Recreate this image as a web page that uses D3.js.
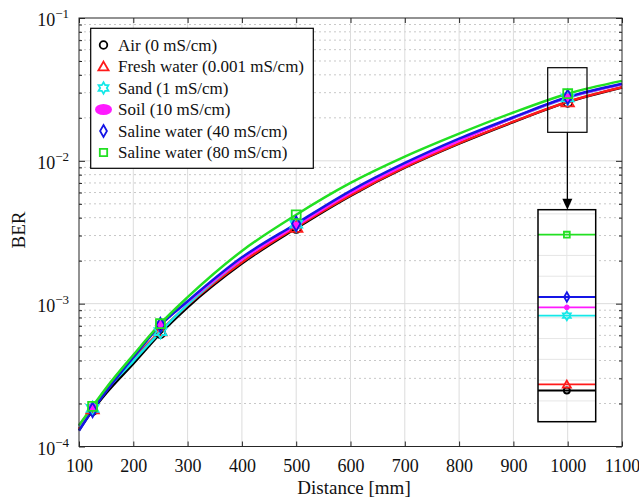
<!DOCTYPE html>
<html>
<head>
<meta charset="utf-8">
<script src="https://cdn.jsdelivr.net/npm/d3@7"></script>
<style>
  body { margin: 0; background: #fff; }
  svg { display: block; font-family: "Liberation Serif", "Times New Roman", serif; }
</style>
</head>
<body>
<div id="chart"></div>
<script>
// data
var distance = [100, 125, 150, 200, 250, 300, 400, 500, 600, 700, 800, 900, 1000, 1100];
var markerDistance = [125, 250, 500, 1000];
var berAir      = [1.30e-4, 1.79e-4, 2.36e-4, 3.80e-4, 6.19e-4, 9.44e-4, 1.91e-3, 3.37e-3, 5.69e-3, 8.95e-3, 1.32e-2, 1.87e-2, 2.575e-2, 3.26e-2];
var berFresh    = [1.33e-4, 1.84e-4, 2.45e-4, 4.07e-4, 6.46e-4, 9.77e-4, 1.95e-3, 3.43e-3, 5.75e-3, 9.02e-3, 1.33e-2, 1.88e-2, 2.59e-2, 3.27e-2];
var berSand     = [1.38e-4, 1.85e-4, 2.47e-4, 3.96e-4, 6.38e-4, 9.84e-4, 2.04e-3, 3.60e-3, 6.03e-3, 9.44e-3, 1.40e-2, 2.00e-2, 2.755e-2, 3.43e-2];
var berSoil     = [1.40e-4, 1.88e-4, 2.54e-4, 4.30e-4, 7.16e-4, 1.03e-3, 2.04e-3, 3.51e-3, 5.96e-3, 9.33e-3, 1.38e-2, 2.00e-2, 2.775e-2, 3.44e-2];
var berSaline40 = [1.29e-4, 1.80e-4, 2.43e-4, 4.22e-4, 7.08e-4, 1.04e-3, 2.11e-3, 3.63e-3, 6.17e-3, 9.66e-3, 1.43e-2, 2.02e-2, 2.80e-2, 3.47e-2];
var berSaline80 = [1.41e-4, 1.91e-4, 2.57e-4, 4.37e-4, 7.24e-4, 1.11e-3, 2.34e-3, 4.19e-3, 7.00e-3, 1.07e-2, 1.55e-2, 2.18e-2, 2.95e-2, 3.63e-2];
var seriesNames = ['Air (0 mS/cm)', 'Fresh water (0.001 mS/cm)', 'Sand (1 mS/cm)', 'Soil (10 mS/cm)', 'Saline water (40 mS/cm)', 'Saline water (80 mS/cm)'];
var xTicks = [100, 200, 300, 400, 500, 600, 700, 800, 900, 1000, 1100];
var yTickExponents = [-4, -3, -2, -1];

(function () {
  'use strict';

  // settings
  var width = 639, height = 497;
  var plotLeft = 79, plotRight = 622, plotTop = 18, plotBottom = 446.5;
  var colors = ['#000000', '#ff1a1a', '#14e8e8', '#ff1aff', '#1515e6', '#22e022'];
  var markerTypes = ['circle', 'triangle', 'hexagram', 'dot', 'diamond', 'square'];
  var gridColor = '#dcdcdc';
  var axisColor = '#262626';
  var serif = 'Liberation Serif, Times New Roman, serif';
  var zoomBox = { x0: 547.7, x1: 587, y0: 67.7, y1: 132.3 };   // small box
  var insetBox = { x0: 538, x1: 595.7, y0: 209.7, y1: 421.7 }; // magnified view
  var insetDomain = [2.50e-2, 3.01e-2];

  var series = [berAir, berFresh, berSand, berSoil, berSaline40, berSaline80].map(function (v, i) {
    return { name: seriesNames[i], values: v, color: colors[i], marker: markerTypes[i] };
  });

  var svg = d3.select('#chart').append('svg')
    .attr('width', width)
    .attr('height', height);

  var x = d3.scaleLinear().domain([100, 1100]).range([plotLeft, plotRight]);
  var y = d3.scaleLog().domain([1e-4, 1e-1]).range([plotBottom, plotTop]);

  // six-pointed star outline
  function hexagram(r) {
    var pts = [];
    for (var k = 0; k < 12; k++) {
      var a = -Math.PI / 2 + k * Math.PI / 6;
      var rr = k % 2 === 0 ? r : r / Math.sqrt(3);
      pts.push([rr * Math.cos(a), rr * Math.sin(a)]);
    }
    return 'M' + pts.map(function (p) { return p[0].toFixed(2) + ',' + p[1].toFixed(2); }).join('L') + 'Z';
  }

  function drawMarker(g, type, color, cx, cy, s) {
    s = s || 1;
    if (type === 'circle') {
      g.append('circle').attr('cx', cx).attr('cy', cy).attr('r', 4 * s)
        .attr('fill', 'none').attr('stroke', color).attr('stroke-width', 1.8);
    } else if (type === 'dot') {
      g.append('circle').attr('cx', cx).attr('cy', cy).attr('r', 3.2 * s)
        .attr('fill', color).attr('stroke', color).attr('stroke-width', 1);
    } else if (type === 'hexagram') {
      g.append('path').attr('d', hexagram(6 * s)).attr('transform', 'translate(' + cx + ',' + cy + ')')
        .attr('fill', 'none').attr('stroke', color).attr('stroke-width', 1.8);
    } else {
      var sym = { triangle: d3.symbolTriangle, diamond: d3.symbolDiamond, square: d3.symbolSquare }[type];
      var size = { triangle: 50, diamond: 45, square: 60 }[type] * s * s;
      g.append('path').attr('d', d3.symbol().type(sym).size(size)())
        .attr('transform', 'translate(' + cx + ',' + (type === 'triangle' ? cy + 1 : cy) + ')')
        .attr('fill', 'none').attr('stroke', color).attr('stroke-width', 1.8);
    }
  }

  // grid
  var grid = svg.append('g');
  var minorVals = [];
  for (var e = -4; e < -1; e++) {
    for (var k = 2; k <= 9; k++) minorVals.push(k * Math.pow(10, e));
  }
  var majorVals = yTickExponents.map(function (p) { return Math.pow(10, p); });
  grid.selectAll('line.minor').data(minorVals).enter().append('line')
    .attr('x1', plotLeft).attr('x2', plotRight)
    .attr('y1', function (d) { return y(d); }).attr('y2', function (d) { return y(d); })
    .attr('stroke', '#c8c8c8').attr('stroke-width', 1).attr('stroke-dasharray', '2,3');
  grid.selectAll('line.hmajor').data(majorVals.slice(1, 3)).enter().append('line')
    .attr('x1', plotLeft).attr('x2', plotRight)
    .attr('y1', function (d) { return y(d); }).attr('y2', function (d) { return y(d); })
    .attr('stroke', gridColor).attr('stroke-width', 1);
  grid.selectAll('line.vmajor').data(xTicks.slice(1, -1)).enter().append('line')
    .attr('x1', function (d) { return x(d); }).attr('x2', function (d) { return x(d); })
    .attr('y1', plotTop).attr('y2', plotBottom)
    .attr('stroke', gridColor).attr('stroke-width', 1);

  // axes, ticks pointing inward on all four sides
  var xAxisB = d3.axisBottom(x).tickValues(xTicks).tickFormat(d3.format('d'))
    .tickSizeInner(-5).tickSizeOuter(0).tickPadding(13);
  var xAxisT = d3.axisTop(x).tickValues(xTicks).tickSizeInner(-5).tickSizeOuter(0).tickFormat('');
  var yAxisL = d3.axisLeft(y).tickValues(minorVals).tickSizeInner(-3).tickSizeOuter(0).tickFormat('');
  var yAxisR = d3.axisRight(y).tickValues(minorVals).tickSizeInner(-3).tickSizeOuter(0).tickFormat('');
  var yAxisLM = d3.axisLeft(y).tickValues(majorVals).tickSizeInner(-6).tickSizeOuter(0).tickFormat('');
  var yAxisRM = d3.axisRight(y).tickValues(majorVals).tickSizeInner(-6).tickSizeOuter(0).tickFormat('');

  var gxb = svg.append('g').attr('transform', 'translate(0,' + plotBottom + ')').call(xAxisB)
    .attr('font-family', serif).attr('font-size', 18);
  gxb.selectAll('text').attr('fill', '#111');
  svg.append('g').attr('transform', 'translate(0,' + plotTop + ')').call(xAxisT);
  svg.append('g').attr('transform', 'translate(' + plotLeft + ',0)').call(yAxisL);
  svg.append('g').attr('transform', 'translate(' + plotRight + ',0)').call(yAxisR);
  svg.append('g').attr('transform', 'translate(' + plotLeft + ',0)').call(yAxisLM);
  svg.append('g').attr('transform', 'translate(' + plotRight + ',0)').call(yAxisRM);
  svg.selectAll('.domain').remove();
  svg.selectAll('.tick line').attr('stroke', axisColor);

  // y tick labels 10^n
  var yl = svg.append('g').selectAll('text').data(yTickExponents).enter().append('text')
    .attr('x', 69).attr('y', function (d) { return y(Math.pow(10, d)) + 8; })
    .attr('text-anchor', 'end').attr('font-size', 18).attr('fill', '#111');
  yl.append('tspan').text('10');
  yl.append('tspan').attr('dy', -8).attr('font-size', 13).text(function (d) { return '\u2212' + Math.abs(d); });

  // axis titles
  svg.append('text').attr('x', 354).attr('y', 494).attr('text-anchor', 'middle')
    .attr('font-size', 19).attr('fill', '#111').text('Distance [mm]');
  svg.append('text').attr('transform', 'translate(25,230) rotate(-90)').attr('text-anchor', 'middle')
    .attr('font-size', 19).attr('fill', '#111').text('BER');

  // curves
  var line = d3.line()
    .x(function (d, i) { return x(distance[i]); })
    .y(function (d) { return y(d); })
    .curve(d3.curveMonotoneX);
  var plot = svg.append('g');
  series.forEach(function (s) {
    plot.append('path').attr('d', line(s.values))
      .attr('fill', 'none').attr('stroke', s.color).attr('stroke-width', 2.5);
  });
  series.forEach(function (s) {
    markerDistance.forEach(function (md) {
      var idx = distance.indexOf(md);
      drawMarker(plot, s.marker, s.color, x(md), y(s.values[idx]), 1.15);
    });
  });

  // axes box
  svg.append('rect').attr('x', plotLeft).attr('y', plotTop)
    .attr('width', plotRight - plotLeft).attr('height', plotBottom - plotTop)
    .attr('fill', 'none').attr('stroke', axisColor).attr('stroke-width', 1);

  // zoom box, arrow and inset
  svg.append('rect').attr('x', zoomBox.x0).attr('y', zoomBox.y0)
    .attr('width', zoomBox.x1 - zoomBox.x0).attr('height', zoomBox.y1 - zoomBox.y0)
    .attr('fill', 'none').attr('stroke', '#000').attr('stroke-width', 1.2);
  var ax = (zoomBox.x0 + zoomBox.x1) / 2;
  svg.append('line').attr('x1', ax).attr('x2', ax).attr('y1', zoomBox.y1).attr('y2', insetBox.y0 - 9)
    .attr('stroke', '#000').attr('stroke-width', 1.3);
  svg.append('path')
    .attr('d', 'M' + (ax - 5) + ',' + (insetBox.y0 - 11) + 'L' + (ax + 5) + ',' + (insetBox.y0 - 11) + 'L' + ax + ',' + insetBox.y0 + 'Z')
    .attr('fill', '#000');

  var ix = d3.scaleLinear().domain([950, 1050]).range([insetBox.x0, insetBox.x1]);
  var iy = d3.scaleLinear().domain(insetDomain).range([insetBox.y1, insetBox.y0]);
  var inset = svg.append('g');
  inset.append('rect').attr('x', insetBox.x0).attr('y', insetBox.y0)
    .attr('width', insetBox.x1 - insetBox.x0).attr('height', insetBox.y1 - insetBox.y0).attr('fill', '#fff');
  inset.selectAll('line.ig').data(iy.ticks(12)).enter().append('line')
    .attr('x1', insetBox.x0).attr('x2', insetBox.x1)
    .attr('y1', function (d) { return iy(d); }).attr('y2', function (d) { return iy(d); })
    .attr('stroke', '#e6e6e6').attr('stroke-width', 1);
  inset.append('line').attr('x1', ix(1000)).attr('x2', ix(1000)).attr('y1', insetBox.y0).attr('y2', insetBox.y1)
    .attr('stroke', '#e6e6e6').attr('stroke-width', 1);
  var i1000 = distance.indexOf(1000);
  series.forEach(function (s) {
    inset.append('line').attr('x1', ix(950)).attr('x2', ix(1050))
      .attr('y1', iy(s.values[i1000])).attr('y2', iy(s.values[i1000]))
      .attr('stroke', s.color).attr('stroke-width', 1.8);
    drawMarker(inset, s.marker, s.color, ix(1000), iy(s.values[i1000]), 0.75);
  });
  inset.append('rect').attr('x', insetBox.x0).attr('y', insetBox.y0)
    .attr('width', insetBox.x1 - insetBox.x0).attr('height', insetBox.y1 - insetBox.y0)
    .attr('fill', 'none').attr('stroke', '#000').attr('stroke-width', 1.5);

  // legend
  var lg = svg.append('g');
  lg.append('rect').attr('x', 90.7).attr('y', 28.3).attr('width', 222.6).attr('height', 140)
    .attr('fill', '#fff').attr('stroke', '#000').attr('stroke-width', 1.2);
  series.forEach(function (s, i) {
    var cy = 45 + i * 21.5;
    if (s.marker === 'dot') {
      lg.append('ellipse').attr('cx', 103.5).attr('cy', cy).attr('rx', 8.5).attr('ry', 5.5).attr('fill', s.color);
    } else {
      drawMarker(lg, s.marker, s.color, 103.5, cy, 0.95);
    }
    lg.append('text').attr('x', 118).attr('y', cy + 5.5).attr('font-size', 17).attr('fill', '#111').text(s.name);
  });
})();
</script>
</body>
</html>
